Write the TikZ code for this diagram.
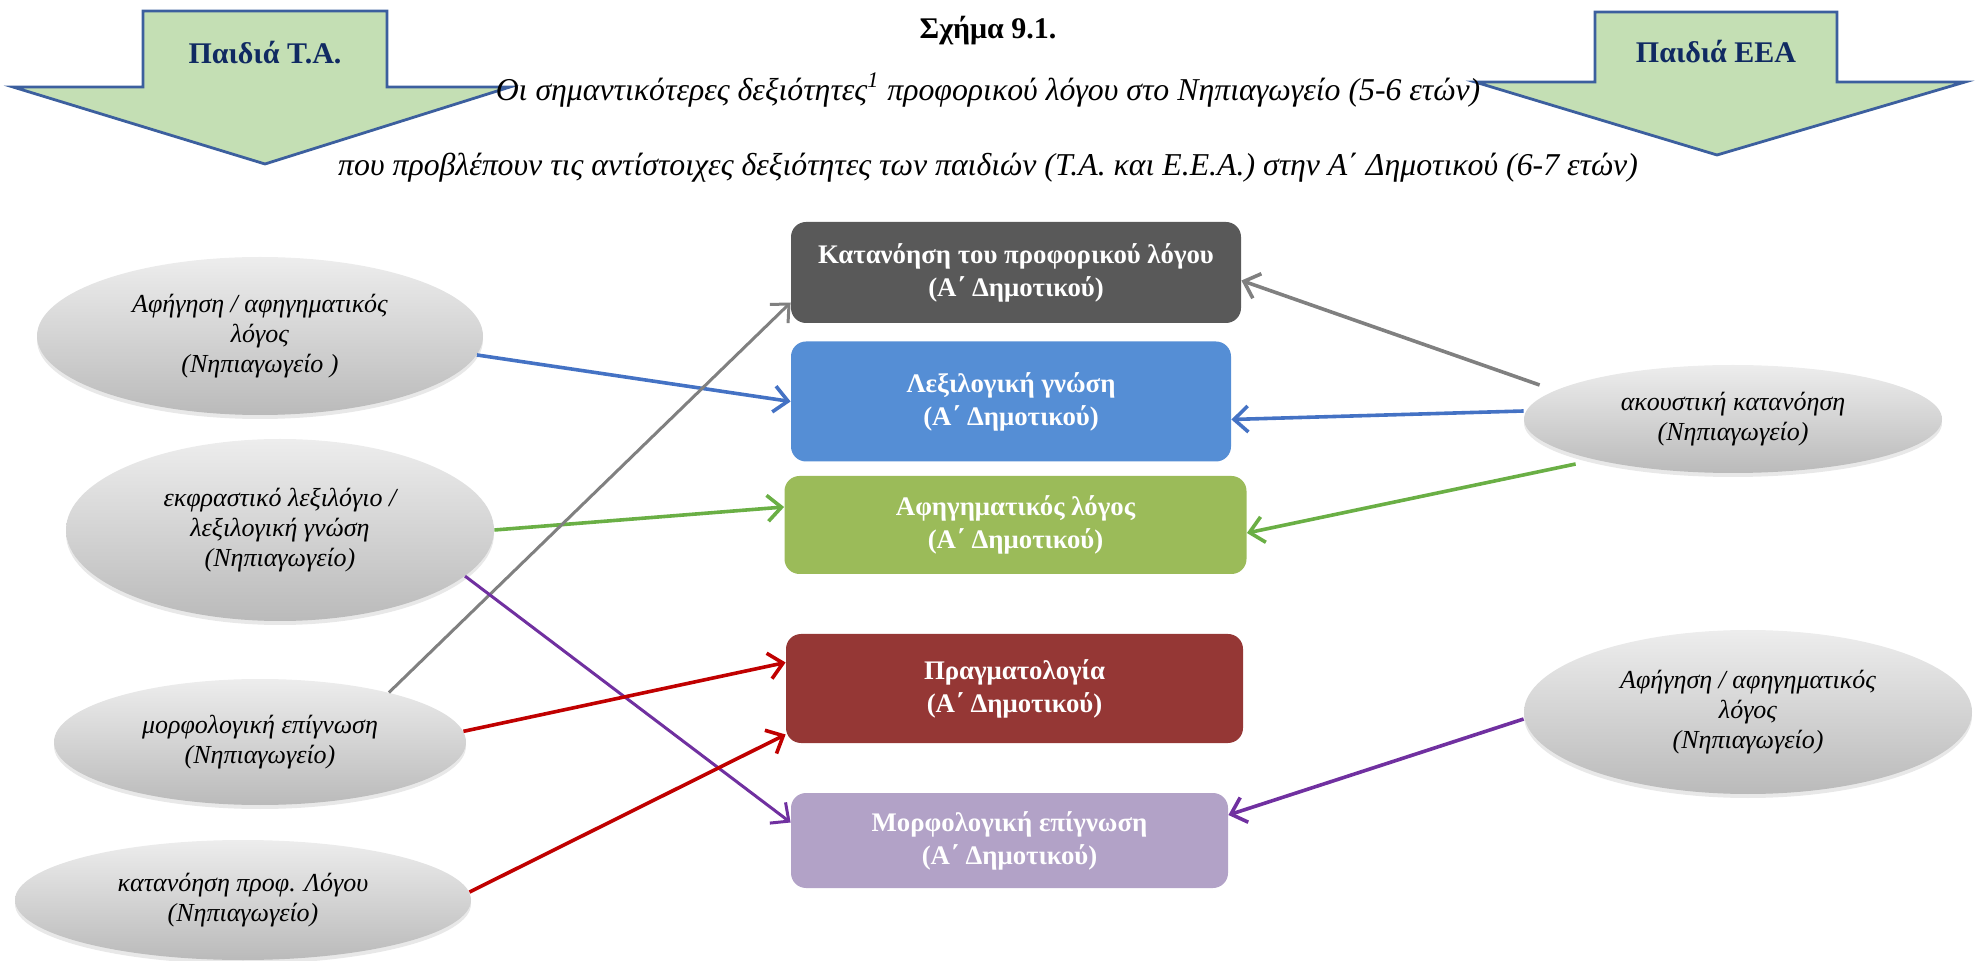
\documentclass[tikz,border=0pt]{standalone}
\usepackage{fontspec}
\setmainfont{Liberation Serif}
\usetikzlibrary{arrows.meta,shapes.geometric,shadows}

\definecolor{bigfill}{HTML}{C4DFB4}
\definecolor{bigline}{HTML}{3C5F9E}
\definecolor{navytext}{HTML}{102A62}
\definecolor{boxgray}{HTML}{595959}
\definecolor{boxblue}{HTML}{558ED5}
\definecolor{boxgreen}{HTML}{9BBB59}
\definecolor{boxred}{HTML}{953735}
\definecolor{boxviolet}{HTML}{B2A2C7}
\definecolor{lgray}{HTML}{808080}
\definecolor{lblue}{HTML}{4472C4}
\definecolor{lgreen}{HTML}{6AAF45}
\definecolor{lred}{HTML}{C00000}
\definecolor{lviolet}{HTML}{7030A0}

\tikzset{
  bigarrow/.style={fill=bigfill, draw=bigline, line width=1.4pt, line join=miter},
  bigtext/.style={font=\fontsize{15}{18}\selectfont\bfseries, text=navytext},
  captext/.style={font=\fontsize{15.9}{18}\selectfont\itshape},
  skill/.style={ellipse, inner sep=0pt, align=center,
    top color=black!7, bottom color=black!27,
    drop shadow={shadow xshift=0pt, shadow yshift=-2pt, opacity=0.18},
    font=\fontsize{13}{15}\selectfont\itshape},
  target/.style={rectangle, rounded corners=7.5pt, inner sep=0pt, align=center,
    text=white, font=\fontsize{13.4}{16.5}\selectfont\bfseries},
  conn/.style={line width=1.8pt, -{Straight Barb[length=7pt,width=13pt]}},
  thinconn/.style={conn, line width=1.5pt},
}

\begin{document}
\begin{tikzpicture}[x=0.5pt, y=-0.5pt]
\useasboundingbox (0,0) rectangle (1975,961);

% the two big block arrows of the header
\draw[bigarrow] (143,11) -- (387,11) -- (387,87) -- (510,87) -- (265,164)
  -- (13,87) -- (143,87) -- cycle;
\node[bigtext] (kidsTA) at (265,53) {Παιδιά Τ.Α.};
\draw[bigarrow] (1595,12) -- (1837,12) -- (1837,82) -- (1965,82) -- (1717,155)
  -- (1475,82) -- (1595,82) -- cycle;
\node[bigtext] (kidsEEA) at (1716,52) {Παιδιά ΕΕΑ};

% caption
\node[font=\fontsize{15}{18}\selectfont\bfseries] (cap) at (988,31) {Σχήμα 9.1.};
\node[captext] (capA) at (988,90)
  {Οι σημαντικότερες δεξιότητες\textsuperscript{1} προφορικού λόγου στο Νηπιαγωγείο (5-6 ετών)};
\node[captext] (capB) at (988,168)
  {που προβλέπουν τις αντίστοιχες δεξιότητες των παιδιών (Τ.Α. και Ε.Ε.Α.) στην Α΄ Δημοτικού (6-7 ετών)};

% kindergarten skills (left)
\node[skill, minimum width=223pt, minimum height=79pt] (L1) at (260,336)
  {Αφήγηση / αφηγηματικός\\λόγος\\(Νηπιαγωγείο )};
\node[skill, minimum width=214pt, minimum height=91pt] (L2) at (280,530)
  {εκφραστικό λεξιλόγιο /\\λεξιλογική γνώση\\(Νηπιαγωγείο)};
\node[skill, minimum width=206pt, minimum height=63pt] (L3) at (260,742)
  {μορφολογική επίγνωση\\(Νηπιαγωγείο)};
\node[skill, minimum width=228pt, minimum height=60pt] (L4) at (243,900)
  {κατανόηση προφ. Λόγου\\(Νηπιαγωγείο)};

% kindergarten skills (right)
\node[skill, minimum width=209pt, minimum height=54pt] (R1) at (1733,419)
  {ακουστική κατανόηση\\(Νηπιαγωγείο)};
\node[skill, minimum width=224pt, minimum height=82pt] (R2) at (1748,712)
  {Αφήγηση / αφηγηματικός\\λόγος\\(Νηπιαγωγείο)};

% first-grade skills (middle)
\node[target, fill=boxgray, minimum width=225pt, minimum height=50.5pt] (B1) at (1016,272.5)
  {Κατανόηση του προφορικού λόγου\\(Α΄ Δημοτικού)};
\node[target, fill=boxblue, minimum width=220pt, minimum height=60pt] (B2) at (1011,401.5)
  {Λεξιλογική γνώση\\(Α΄ Δημοτικού)};
\node[target, fill=boxgreen, minimum width=231pt, minimum height=49pt] (B3) at (1015.5,525)
  {Αφηγηματικός λόγος\\(Α΄ Δημοτικού)};
\node[target, fill=boxred, minimum width=228.5pt, minimum height=54.5pt] (B4) at (1014.5,688.5)
  {Πραγματολογία\\(Α΄ Δημοτικού)};
\node[target, fill=boxviolet, minimum width=218.5pt, minimum height=47.5pt] (B5) at (1009.5,840.5)
  {Μορφολογική επίγνωση\\(Α΄ Δημοτικού)};

% links from the left
\draw[conn, lblue]       (L1.-5)  -- (B2.west);
\draw[conn, lgreen]      (L2.east) -- ([yshift=9pt]B3.west);
\draw[thinconn, lgray]   (L3.21)  -- ([yshift=-15pt]B1.west);
\draw[thinconn, lviolet] (L2.-14) -- ([yshift=9pt]B5.west);
\draw[conn, lred]        (L3.3)   -- ([yshift=13pt]B4.west);
\draw[conn, lred]        (L4.2)   -- ([yshift=-23pt]B4.west);

% links from the right
\draw[conn, lgray]   ([xshift=8pt,yshift=17pt]R1.west) -- ([yshift=-4pt]B1.east);
\draw[conn, lblue]   ([yshift=4pt]R1.west) -- ([yshift=-9pt]B2.east);
\draw[conn, lgreen]  ([xshift=26pt,yshift=-22.5pt]R1.west) -- ([yshift=-4pt]B3.east);
\draw[conn, lviolet] ([yshift=-3.5pt]R2.west) -- ([yshift=12.75pt]B5.east);
\end{tikzpicture}
\end{document}
